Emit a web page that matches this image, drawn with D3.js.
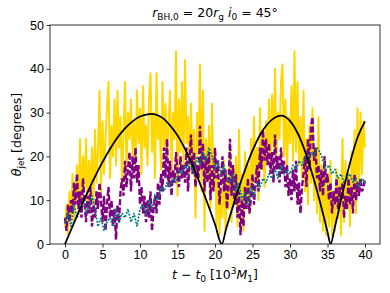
<!DOCTYPE html>
<html>
<head>
<meta charset="utf-8">
<script src="https://cdn.jsdelivr.net/npm/d3@7"></script>
<style>
  body { margin: 0; background: #fff; }
  svg { display: block; font-family: "DejaVu Sans", sans-serif; }
  .tick text { font-size: 12.5px; fill: #000; }
</style>
</head>
<body>
<div id="chart"></div>
<script>
// sampling steps (10^3 M1)
const goldStep = 0.2;
const purpleStep = 0.2;
const tealStep = 0.4;

// noisy jet angle series, degrees
const goldVals = [
  4, 9, 2, 12, 6,   16, 5, 11, 18, 7,   24, 9, 20, 13, 24,   8, 19, 12, 22, 9,
  26, 14, 21, 35, 12,   28, 16, 24, 31, 37,   15, 27, 20, 33, 18,   35, 22, 29, 14, 25,
  37, 17, 30, 24, 33,   20, 28, 18, 35, 23,   31, 16, 36, 22, 27,   18, 33, 39, 21, 30,
  15, 39, 24, 29, 17,   37, 22, 32, 19, 28,   35, 15, 30, 24, 44,   11, 33, 21, 37, 18,
  42, 23, 29, 16, 32,   19, 26, 6, 30, 22,   41, 12, 35, 3, 24,   15, 27, 8, 32, 13,
  21, 4, 17, 2, 12,   6, 19, 3, 15, 8,   22, 5, 18, 10, 20,   4, 26, 9, 16, 3,
  21, 11, 18, 7, 24,   12, 29, 14, 22, 10,   31, 17, 25, 13, 28,   20, 33, 18, 34, 22,
  40, 19, 30, 24, 37,   41, 20, 33, 17, 29,   23, 36, 19, 44, 21,   37, 18, 29, 15, 35,
  12, 24, 9, 27, 14,   31, 10, 22, 7, 29,   5, 18, 3, 20, 2,   14, 4, 19, 2, 12,
  3, 17, 6, 15, 2,   24, 5, 19, 8, 16,   4, 21, 9, 26, 7,   31, 12, 30, 16, 28,
  22
];

const purpleVals = [
  6, 3, 9, 5, 10,   7, 14, 9, 16, 8,   12, 6, 15, 10, 5,   11, 7, 13, 4, 9,
  6, 12, 8, 14, 10,   5, 11, 3, 9, 13,   6, 10, 4, 8, 1,   9, 5, 12, 15, 11,
  19, 13, 17, 21, 12,   20, 15, 22, 14, 18,   9, 13, 7, 11, 5,   10, 6, 12, 3, 8,
  11, 7, 14, 9, 16,   12, 22, 15, 24, 13,   19, 11, 17, 14, 21,   16, 13, 20, 15, 18,
  14, 22, 12, 19, 25,   16, 21, 13, 18, 15,   27, 17, 23, 12, 20,   14, 21, 10, 18, 12,
  22, 15, 19, 9, 14,   20, 12, 17, 8, 13,   24, 11, 18, 9, 16,   6, 12, 2, 10, 4,
  13, 8, 15, 7, 11,   16, 9, 14, 18, 12,   22, 17, 26, 19, 24,   18, 23, 16, 21, 14,
  25, 17, 20, 14, 22,   16, 19, 13, 18, 11,   15, 10, 17, 12, 19,   9, 14, 7, 13, 16,
  20, 13, 24, 17, 27,   29, 19, 22, 15, 18,   12, 17, 11, 20, 14,   16, 10, 14, 7, 12,
  9, 15, 8, 13, 10,   14, 6, 11, 8, 15,   9, 13, 7, 16, 10,   14, 11, 15, 12, 13,
  15
];

const tealVals = [
  5, 7, 4, 9, 6,   8, 10, 7, 9, 11,   8, 4, 6, 3, 5,   6, 4, 8, 5, 7,
  6, 8, 5, 7, 4,   8, 9, 7, 10, 8,   11, 10, 13, 12, 14,   13, 15, 14, 17, 16,
  18, 17, 19, 16, 20,   18, 21, 19, 22, 20,   17, 19, 16, 18, 15,   14, 16, 12, 14, 10,
  12, 9, 13, 11, 14,   13, 15, 14, 16, 15,   17, 15, 18, 16, 17,   16, 18, 17, 19, 18,
  20, 19, 21, 20, 22,   21, 19, 17, 18, 16,   17, 15, 16, 14, 15,   16, 14, 15, 13, 15,
  14
];

// model curve
const modelT = [0, 1, 2, 3, 4, 5, 6, 7, 8, 9, 10, 11, 11.5, 12, 13, 14, 15, 16, 17, 18, 19, 20, 20.9,
  21.5, 22, 23, 24, 25, 26, 27, 28, 28.8, 30, 31, 32, 33, 34, 35, 35.4, 36, 37, 38, 39, 40];
const modelVals = [0, 4.0, 8.0, 11.8, 15.4, 18.7, 21.7, 24.3, 26.4, 28.0, 29.1, 29.6, 29.7, 29.6, 28.8, 27.1, 24.8, 21.7, 18.0, 13.8, 9.3, 4.5, 0,
  3.6, 6.4, 11.9, 16.9, 21.3, 24.9, 27.4, 28.9, 29.3, 28.1, 25.4, 21.2, 15.8, 9.6, 2.8, 0, 4.0, 11.5, 18.5, 24.3, 28.0];

const xTicks = [0, 5, 10, 15, 20, 25, 30, 35, 40];
const yTicks = [0, 10, 20, 30, 40, 50];

const W = 390, H = 293;
const margin = { top: 25, right: 10, bottom: 49, left: 50 };

const svg = d3.select('#chart').append('svg')
  .attr('width', W)
  .attr('height', H);

const x = d3.scaleLinear().domain([-2, 42]).range([margin.left, W - margin.right]);
const y = d3.scaleLinear().domain([0, 50]).range([H - margin.bottom, margin.top]);

svg.append('clipPath').attr('id', 'plot-clip')
  .append('rect')
    .attr('x', margin.left).attr('y', margin.top)
    .attr('width', W - margin.left - margin.right)
    .attr('height', H - margin.top - margin.bottom);

const draw = svg.append('g').attr('clip-path', 'url(#plot-clip)');

const toPoints = (vals, step) => vals.map((v, i) => [i * step, v]);

const line = d3.line()
  .x((d) => x(d[0]))
  .y((d) => y(d[1]));

draw.append('path')
  .datum(toPoints(goldVals, goldStep))
  .attr('d', line)
  .attr('fill', 'none')
  .attr('stroke', '#ffd700')
  .attr('stroke-width', 2)
  .attr('stroke-linejoin', 'round');

draw.append('path')
  .datum(toPoints(purpleVals, purpleStep))
  .attr('d', line)
  .attr('fill', 'none')
  .attr('stroke', '#800080')
  .attr('stroke-width', 2.4)
  .attr('stroke-dasharray', '6,2.4');

draw.append('path')
  .datum(toPoints(tealVals, tealStep))
  .attr('d', line)
  .attr('fill', 'none')
  .attr('stroke', '#008080')
  .attr('stroke-width', 2)
  .attr('stroke-linecap', 'round')
  .attr('stroke-dasharray', '0.1,3.2');

draw.append('path')
  .datum(modelT.map((t, i) => [t, modelVals[i]]))
  .attr('d', line.curve(d3.curveMonotoneX))
  .attr('fill', 'none')
  .attr('stroke', '#000')
  .attr('stroke-width', 1.8);

// axes
const xAxis = svg.append('g')
  .attr('transform', `translate(0,${H - margin.bottom})`)
  .call(d3.axisBottom(x).tickValues(xTicks).tickSize(3.5).tickPadding(2.5).tickSizeOuter(0));

const yAxis = svg.append('g')
  .attr('transform', `translate(${margin.left},0)`)
  .call(d3.axisLeft(y).tickValues(yTicks).tickSize(3.5).tickPadding(2.5).tickSizeOuter(0));

[xAxis, yAxis].forEach((g) => {
  g.select('.domain').remove();
  g.selectAll('.tick line').attr('stroke', '#000').attr('stroke-width', 0.8);
});

// frame
svg.append('rect')
  .attr('x', margin.left).attr('y', margin.top)
  .attr('width', W - margin.left - margin.right)
  .attr('height', H - margin.top - margin.bottom)
  .attr('fill', 'none')
  .attr('stroke', '#000')
  .attr('stroke-width', 0.8);

// title
const title = svg.append('text')
  .attr('x', (margin.left + W - margin.right) / 2)
  .attr('y', 17)
  .attr('text-anchor', 'middle')
  .attr('font-size', 12.5);
title.append('tspan').attr('font-style', 'italic').text('r');
title.append('tspan').attr('font-size', 9).attr('dy', 2.5).text('BH,0');
title.append('tspan').attr('dy', -2.5).text(' = 20');
title.append('tspan').attr('font-style', 'italic').text('r');
title.append('tspan').attr('font-size', 9).attr('dy', 2.5).text('g');
title.append('tspan').attr('dy', -2.5).text(' ');
title.append('tspan').attr('font-style', 'italic').text('i');
title.append('tspan').attr('font-size', 9).attr('dy', 2.5).text('0');
title.append('tspan').attr('dy', -2.5).text(' = 45°');

// x label
const xLabel = svg.append('text')
  .attr('x', (margin.left + W - margin.right) / 2)
  .attr('y', 279)
  .attr('text-anchor', 'middle')
  .attr('font-size', 12.5);
xLabel.append('tspan').attr('font-style', 'italic').text('t');
xLabel.append('tspan').text(' − ');
xLabel.append('tspan').attr('font-style', 'italic').text('t');
xLabel.append('tspan').attr('font-size', 9).attr('dy', 2.5).text('0');
xLabel.append('tspan').attr('dy', -2.5).text(' [10');
xLabel.append('tspan').attr('font-size', 9).attr('dy', -5).text('3');
xLabel.append('tspan').attr('dy', 5).attr('font-style', 'italic').text('M');
xLabel.append('tspan').attr('font-size', 9).attr('dy', 2.5).text('1');
xLabel.append('tspan').attr('dy', -2.5).text(']');

// y label
const yLabel = svg.append('text')
  .attr('transform', `translate(21,${(margin.top + H - margin.bottom) / 2}) rotate(-90)`)
  .attr('text-anchor', 'middle')
  .attr('font-size', 12.5);
yLabel.append('tspan').attr('font-style', 'italic').text('θ');
yLabel.append('tspan').attr('font-size', 9).attr('dy', 2.5).text('jet');
yLabel.append('tspan').attr('dy', -2.5).text(' [degrees]');
</script>
</body>
</html>
